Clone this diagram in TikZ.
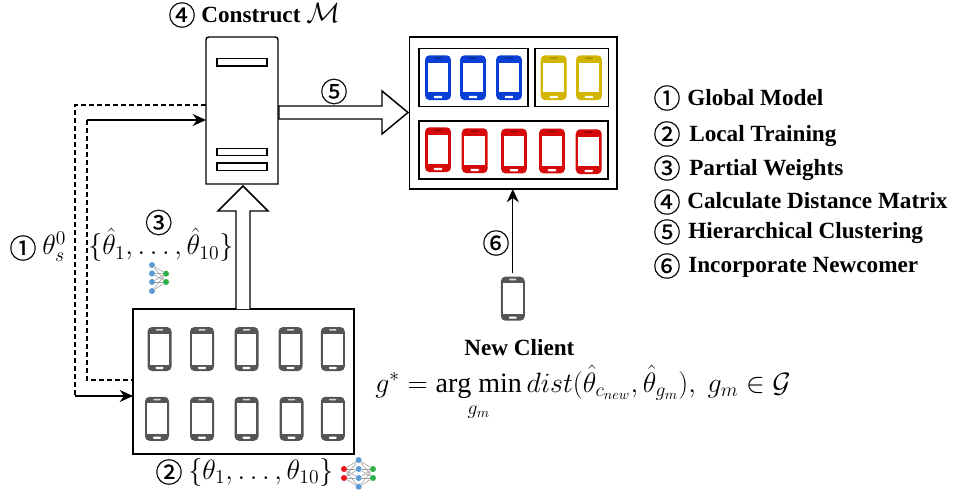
\RequirePackage{fix-cm}
\documentclass[tikz,border=0pt]{standalone}
\usepackage{amsmath,amssymb}
\usepackage{fontspec}
\setmainfont{Liberation Serif}
\newfontfamily\circfont[FakeBold=0.5]{Noto Sans CJK SC}
\usetikzlibrary{arrows.meta}
\def\px{0.75pt}
\definecolor{phgrey}{HTML}{555555}
\definecolor{phblue}{HTML}{0A3FD6}
\definecolor{phyellow}{HTML}{D2B500}
\definecolor{phred}{HTML}{D60A0A}
\definecolor{nnblue}{HTML}{5B9BD5}
\definecolor{nngreen}{HTML}{2DB04A}
\definecolor{nnred}{HTML}{E8141E}
\tikzset{
  box/.style={draw=black,line width=1pt,inner sep=0pt,outer sep=0pt,fill=white},
  slot/.style={box,minimum width=50*\px,minimum height=7.5*\px},
  line/.style={black,line width=0.9pt},
  dash line/.style={black,line width=0.8pt,dash pattern=on 3.5pt off 2.5pt},
  arrowline/.style={line,-{Stealth[length=10pt,width=9pt]}},
  bigarrow/.style={draw=black,line width=1.1pt,fill=white,line join=miter},
  bold text/.style={font=\fontsize{17.4}{20}\selectfont\bfseries,inner sep=0pt,anchor=base west},
  math text/.style={font=\fontsize{21}{24}\selectfont,inner sep=0pt},
  circ/.style={font=\fontsize{20.5}{24}\selectfont\circfont,inner sep=0pt},
  nn/.style={circle,inner sep=0pt,minimum size=6*\px},
  nnedge/.style={draw=gray!80,line width=0.4pt},
  colphone/.style={xscale=1.08,yscale=1.02},
  pics/phone/.style n args={3}{code={
    \fill[#1,rounded corners=4.5*\px] (-12,-22) rectangle (12,22);
    \fill[white] (-9.7,-#3) rectangle (9.7,#3);
    \fill[#2,rounded corners=0.5pt] (-3.6,-20) rectangle (3.6,-18.4);
    \fill[white,rounded corners=0.5pt] (-3.8,17.8) rectangle (3.8,20);
  }},
}
\begin{document}
\begin{tikzpicture}[x=0.75pt,y=-0.75pt]
\useasboundingbox (0,0) rectangle (956,495);

% server
\node[minimum width=72*\px,minimum height=147*\px,inner sep=0pt,outer sep=0pt] (server) at (242,110.5) {};
\draw[line width=1pt] (server.south west) -- ([yshift=-4.5pt]server.north west) .. controls (server.north west) .. ([xshift=4.5pt]server.north west) -- ([xshift=-4.5pt]server.north east) .. controls (server.north east) .. ([yshift=-4.5pt]server.north east) -- (server.south east) -- cycle;
\node[slot] (s1) at (242,62.3) {};
\node[slot] (s2) at (242,152) {};
\node[slot] (s3) at (242,166.6) {};
\node[bold text] (t4) at (201,22.5) {Construct};
\node[circ] (c4) at (182,15) {④};
\node[math text,anchor=base west] (calM) at (306,22.5) {$\mathcal{M}$};

% client box
\node[box,minimum width=221*\px,minimum height=145*\px] (clients) at (243.5,381.5) {};
\foreach \x/\y in {159.5/349,202/349,246.5/349,290.5/349,332.8/349,157/418.8,202/418.8,246.5/418.8,291.5/418.8,332.8/418.8}
  \pic at (\x,\y) {phone={phgrey}{white!85!black}{15.5}};

% cluster box
\node[box,minimum width=207.5*\px,minimum height=152*\px] (cluster) at (513.2,113) {};
\node[box,minimum width=109*\px,minimum height=58*\px] (blue) at (473.5,77.7) {};
\node[box,minimum width=73.7*\px,minimum height=58*\px] (yellow) at (571.9,77.7) {};
\node[box,minimum width=189*\px,minimum height=58*\px] (red) at (513.5,150) {};
\foreach \x in {438,473,509}
  \pic[colphone] at (\x,77.7) {phone={phblue}{phblue!70!black}{14.3}};
\foreach \x in {553.7,589}
  \pic[colphone] at (\x,77.7) {phone={phyellow}{phyellow!80!black}{14.3}};
\foreach \x/\y in {438/149.7,474.7/150.7,514/151,552/151,588.7/151.7}
  \pic[colphone] at (\x,\y) {phone={phred}{phred!70!black}{14.3}};

% new client
\pic at (512.8,298.7) {phone={phgrey}{white!85!black}{15.5}};
\coordinate (newtop) at (512.8,273);
\node[bold text] (newclient) at (464,355) {New Client};
\draw[arrowline] (newtop) -- (newtop |- cluster.south);
\node[circ] (c6) at (496,243) {⑥};

% connectors
\coordinate (o1) at (75,105);
\coordinate (o2) at (75,396);
\coordinate (i1) at (87,120);
\coordinate (i2) at (87,380);
\draw[dash line] (server.west |- o1) -- (o1) -- (o2);
\draw[arrowline] (o2) -- (o2 -| clients.west);
\draw[dash line] (i1) -- (i2) -- (i2 -| clients.west);
\draw[arrowline] (i1) -- (i1 -| server.west);

% big arrows
\draw[bigarrow] (236,309) -- (236,211) -- (218,211) -- (243,186) -- (268,211) -- (250,211) -- (250,309);
\draw[bigarrow] (279,106) -- (382,106) -- (382,91) -- (408,112.5) -- (382,134) -- (382,119) -- (279,119) -- cycle;
\node[circ] (c5) at (334,91.5) {⑤};

% labels
\node[circ] (c1) at (23,248) {①};
\node[math text,anchor=base west] (th0) at (42,255) {$\theta_s^0$};
\node[circ] (c3) at (158.7,222.5) {③};
\node[math text,anchor=base west] (thhat) at (88,255) {$\{\hat\theta_1,\ldots,\hat\theta_{10}\}$};
\node[circ] (c2) at (169,472) {②};
\node[math text,anchor=base west] (thet) at (188,479) {$\{\theta_1,\ldots,\theta_{10}\}$};
\node[math text,anchor=base west] (eq) at (375,392) {$g^*=\mathop{\mathrm{arg\ min}}\limits_{g_m} dist(\hat\theta_{c_{new}},\hat\theta_{g_m}),\ g_m\in\mathcal{G}$};

% small network
\foreach \i/\y in {1/265,2/273.5,3/282,4/291} \node[nn,fill=nnblue] (a\i) at (152,\y) {};
\foreach \i/\y in {1/273.7,2/282} \node[nn,fill=nngreen] (b\i) at (166,\y) {};
\foreach \i in {1,2,3,4} \foreach \j in {1,2} \draw[nnedge] (a\i) -- (b\j);
% large network
\foreach \i/\y in {1/469,2/478} \node[nn,fill=nnred] (l\i) at (344,\y) {};
\foreach \i/\y in {1/460,2/469,3/478,4/486.7} \node[nn,fill=nnblue] (m\i) at (358.7,\y) {};
\foreach \i/\y in {1/469,2/478} \node[nn,fill=nngreen] (r\i) at (373,\y) {};
\foreach \i in {1,2} \foreach \j in {1,2,3,4} {\draw[nnedge] (l\i) -- (m\j); \draw[nnedge] (m\j) -- (r\i);}

% legend
\foreach \n/\c/\x/\cy/\by/\t in {
  g1/①/687/98/106/{Global Model},
  g2/②/689/134/141.2/{Local Training},
  g3/③/689/168/175.5/{Partial Weights},
  g4/④/687/202/209/{Calculate Distance Matrix},
  g5/⑤/688/232/239/{Hierarchical Clustering},
  g6/⑥/688/266/272.5/{Incorporate Newcomer}}{
  \node[circ] (c\n) at (667,\cy) {\c};
  \node[bold text] (\n) at (\x,\by) {\t};
}
\end{tikzpicture}
\end{document}
